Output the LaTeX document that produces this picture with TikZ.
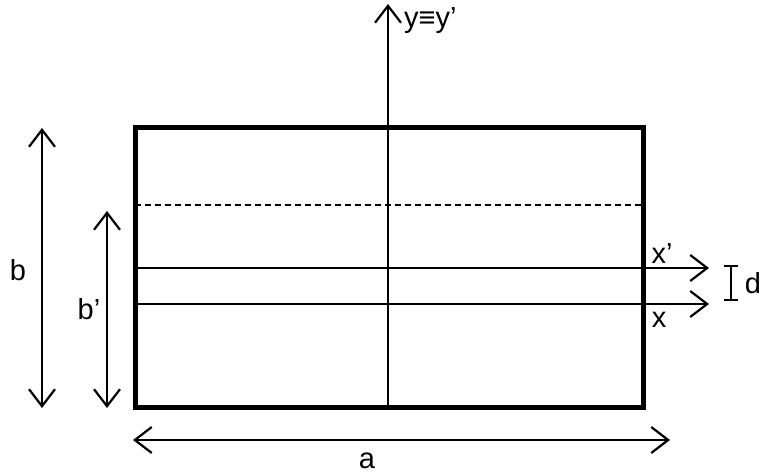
\documentclass[tikz,border=0pt]{standalone}
\usepackage{fontspec}
\setmainfont{Liberation Sans}
\usetikzlibrary{arrows.meta}
\begin{document}
\begin{tikzpicture}[x=1pt,y=-1pt,
  thinline/.style={line width=2.2pt},
  tip/.tip={Straight Barb[length=17pt,width=26pt,line width=2.2pt]},
  arr/.style={thinline,-tip},
  darr/.style={thinline,tip-tip},
  lbl/.style={font=\fontsize{29}{31}\selectfont,inner sep=0pt}]
\useasboundingbox (0,0) rectangle (760,476);
% rectangle corners
\coordinate (tl) at (135,128);
\coordinate (br) at (643,407);
\draw[line width=5pt] (tl) rectangle (br);
% vertical axis
\coordinate (ybot) at (388,407);
\coordinate (ytop) at (388,4);
\draw[arr] (ybot) -- (ytop);
\node[lbl,anchor=west] (ylab) at (404,21) {y≡y’};
% dashed line
\coordinate (dl) at (135,205);
\coordinate (dr) at (643,205);
\draw[thinline,dash pattern=on 6pt off 4pt] (dl) -- (dr);
% x' and x axes
\coordinate (xpl) at (135,268);
\coordinate (xpr) at (709,268);
\coordinate (xl) at (135,304);
\coordinate (xr) at (709,304);
\draw[arr] (xpl) -- (xpr);
\draw[arr] (xl) -- (xr);
\node[lbl] (xplab) at (662,254) {x’};
\node[lbl] (xlab) at (659,320) {x};
% d bracket
\coordinate (dt) at (731,266);
\coordinate (db) at (731,300);
\draw[thinline] (dt) -- (db);
\draw[thinline] ([xshift=-7pt]dt) -- ([xshift=7pt]dt);
\draw[thinline] ([xshift=-7pt]db) -- ([xshift=7pt]db);
\node[lbl] (dlab) at (753,283) {d};
% b dimension
\coordinate (bt) at (42,128);
\coordinate (bb) at (42,408);
\draw[darr] (bt) -- (bb);
\node[lbl] (blab) at (18,270) {b};
% b' dimension
\coordinate (bpt) at (107,211);
\coordinate (bpb) at (107,408);
\draw[darr] (bpt) -- (bpb);
\node[lbl] (bplab) at (89,309) {b’};
% a dimension
\coordinate (al) at (133,440);
\coordinate (ar) at (670,440);
\draw[darr] (al) -- (ar);
\node[lbl] (alab) at (367,461) {a};
\end{tikzpicture}
\end{document}
